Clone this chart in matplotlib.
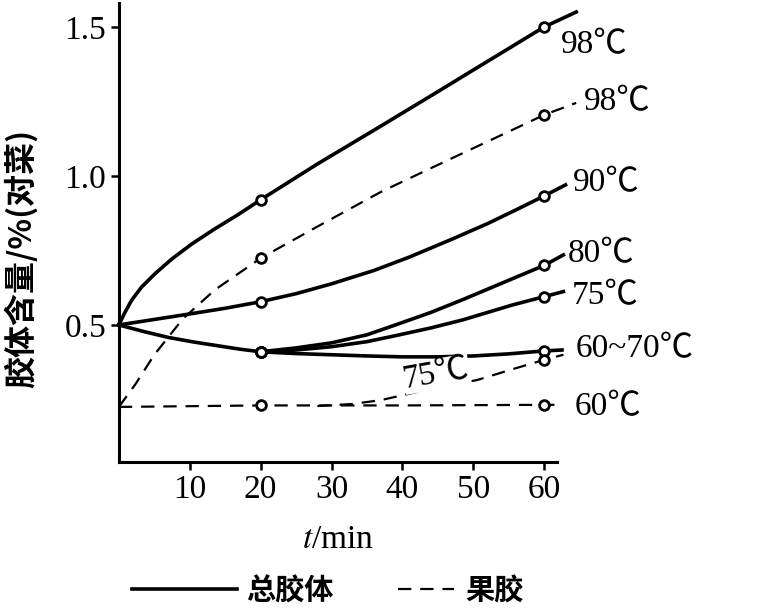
import numpy as np
import matplotlib.pyplot as plt
from matplotlib.lines import Line2D

plt.rcParams["mathtext.fontset"] = "stix"

# total colloid (solid lines), t in min, content in %
t_total_98 = [0, 0.85, 1.8, 3.2, 5.1, 7.4, 10.3, 13.5, 16.8, 20, 28, 37, 45,
              51, 60, 64.5]
v_total_98 = [0.5, 0.542, 0.583, 0.627, 0.672, 0.72, 0.772, 0.822, 0.87, 0.92,
              1.04, 1.168, 1.283, 1.37, 1.50, 1.55]

t_total_90 = [0, 10, 15, 20, 25, 30, 36, 41, 47, 52, 56, 60, 63]
v_total_90 = [0.5, 0.537, 0.556, 0.578, 0.605, 0.638, 0.683, 0.728, 0.788, 0.84,
              0.886, 0.933, 0.97]

t_total_low = [0, 3.5, 7, 10.5, 14, 17, 20]
v_total_low = [0.5, 0.478, 0.458, 0.443, 0.43, 0.419, 0.41]

t_total_80 = [20, 25, 30, 35, 39, 44, 48.5, 55.5, 60, 62.7]
v_total_80 = [0.41, 0.423, 0.44, 0.467, 0.50, 0.542, 0.585, 0.655, 0.70, 0.735]

t_total_75 = [20, 25, 30, 35, 39, 44, 48.5, 55.5, 60, 62.7]
v_total_75 = [0.41, 0.416, 0.427, 0.444, 0.464, 0.49, 0.517, 0.567, 0.595, 0.612]

t_total_6070 = [20, 25, 30, 35, 40, 45, 50, 55, 60, 62.5]
v_total_6070 = [0.41, 0.404, 0.40, 0.396, 0.393, 0.393, 0.396, 0.403, 0.413, 0.416]

# pectin (dashed lines)
t_pectin_98 = [0, 2.3, 5, 9, 13.5, 20, 28, 37, 46.5, 56, 60, 64.5]
v_pectin_98 = [0.225, 0.30, 0.40, 0.52, 0.617, 0.724, 0.83, 0.947, 1.054, 1.16,
               1.205, 1.245]

t_pectin_60 = [0, 20, 40, 60, 62.5]
v_pectin_60 = [0.225, 0.23, 0.23, 0.232, 0.232]

t_pectin_75 = [28, 33, 37, 42, 46, 50.5, 56, 60, 62.7]
v_pectin_75 = [0.228, 0.235, 0.248, 0.275, 0.295, 0.315, 0.355, 0.383, 0.40]

# curve end labels: (text, t, value)
end_labels = [
    ("98℃", 62.4, 1.44),
    ("98℃", 65.6, 1.25),
    ("90℃", 64.1, 0.977),
    ("80℃", 63.3, 0.738),
    ("75℃", 63.9, 0.597),
    ("60~70℃", 64.4, 0.42),
    ("60℃", 64.3, 0.225),
]

x_ticks = [10, 20, 30, 40, 50, 60]
y_ticks = [0.5, 1.0, 1.5]
marker_times = (20, 60)

serif = ["Liberation Serif", "Noto Sans CJK SC"]
cjk = ["Noto Sans CJK SC", "DejaVu Sans"]
fs = 24

fig = plt.figure(figsize=(7.62, 6.12), dpi=100)
ax = fig.add_axes([0.156, 0.245, 0.575, 0.75])


def draw(t, v, dashed=False):
    if dashed:
        ax.plot(t, v, color="k", lw=1.6, dashes=(6, 4), clip_on=False, zorder=2)
    else:
        ax.plot(t, v, color="k", lw=2.6, clip_on=False, zorder=2)
    mt = [a for a in t if a in marker_times]
    mv = [b for a, b in zip(t, v) if a in marker_times]
    ax.plot(mt, mv, ls="none", marker="o", ms=7, mfc="white", mec="k",
            mew=2.0, clip_on=False, zorder=3)


draw(t_total_98, v_total_98)
draw(t_total_90, v_total_90)
draw(t_total_low, v_total_low)
draw(t_total_80, v_total_80)
draw(t_total_75, v_total_75)
draw(t_total_6070, v_total_6070)
draw(t_pectin_98, v_pectin_98, dashed=True)
draw(t_pectin_60, v_pectin_60, dashed=True)
draw(t_pectin_75, v_pectin_75, dashed=True)

for txt, tx, ty in end_labels:
    ax.text(tx, ty, txt, ha="left", va="center", fontsize=fs, family=serif,
            clip_on=False)

ax.text(44.8, 0.335, "75℃", ha="center", va="center", fontsize=fs,
        family=serif, rotation=10, zorder=4,
        bbox=dict(facecolor="white", edgecolor="none", pad=0))

ax.set_xlim(0, 61.8)
ax.set_ylim(0.04, 1.58)
ax.set_xticks(x_ticks)
ax.set_yticks(y_ticks)
ax.set_xticklabels([str(x) for x in x_ticks], family=serif, fontsize=fs)
ax.set_yticklabels([f"{y:.1f}" for y in y_ticks], family=serif, fontsize=fs)
ax.tick_params(direction="out", length=6, width=1.8, pad=3)
for side in ("top", "right"):
    ax.spines[side].set_visible(False)
for side in ("left", "bottom"):
    ax.spines[side].set_linewidth(2.2)

ax.set_xlabel("$\\mathit{t}$/min", fontsize=fs, family=serif, labelpad=14)
ax.set_ylabel("胶体含量/%(对菜)", fontsize=23, family=cjk, fontweight="bold")
ax.yaxis.set_label_coords(-0.185, 0.444)

solid_handle = Line2D([], [], color="k", lw=2.6)
dashed_handle = Line2D([], [], color="k", lw=1.6, dashes=(6, 4))
fig.legend([solid_handle], ["总胶体"], loc="center", bbox_to_anchor=(0.305, 0.035),
           frameon=False, handlelength=3.6, handletextpad=0.3,
           prop=dict(family=cjk, size=21, weight="bold"))
fig.legend([dashed_handle], ["果胶"], loc="center", bbox_to_anchor=(0.605, 0.035),
           frameon=False, handlelength=1.9, handletextpad=0.4,
           prop=dict(family=cjk, size=21, weight="bold"))

fig.savefig("out.png", dpi=100)
